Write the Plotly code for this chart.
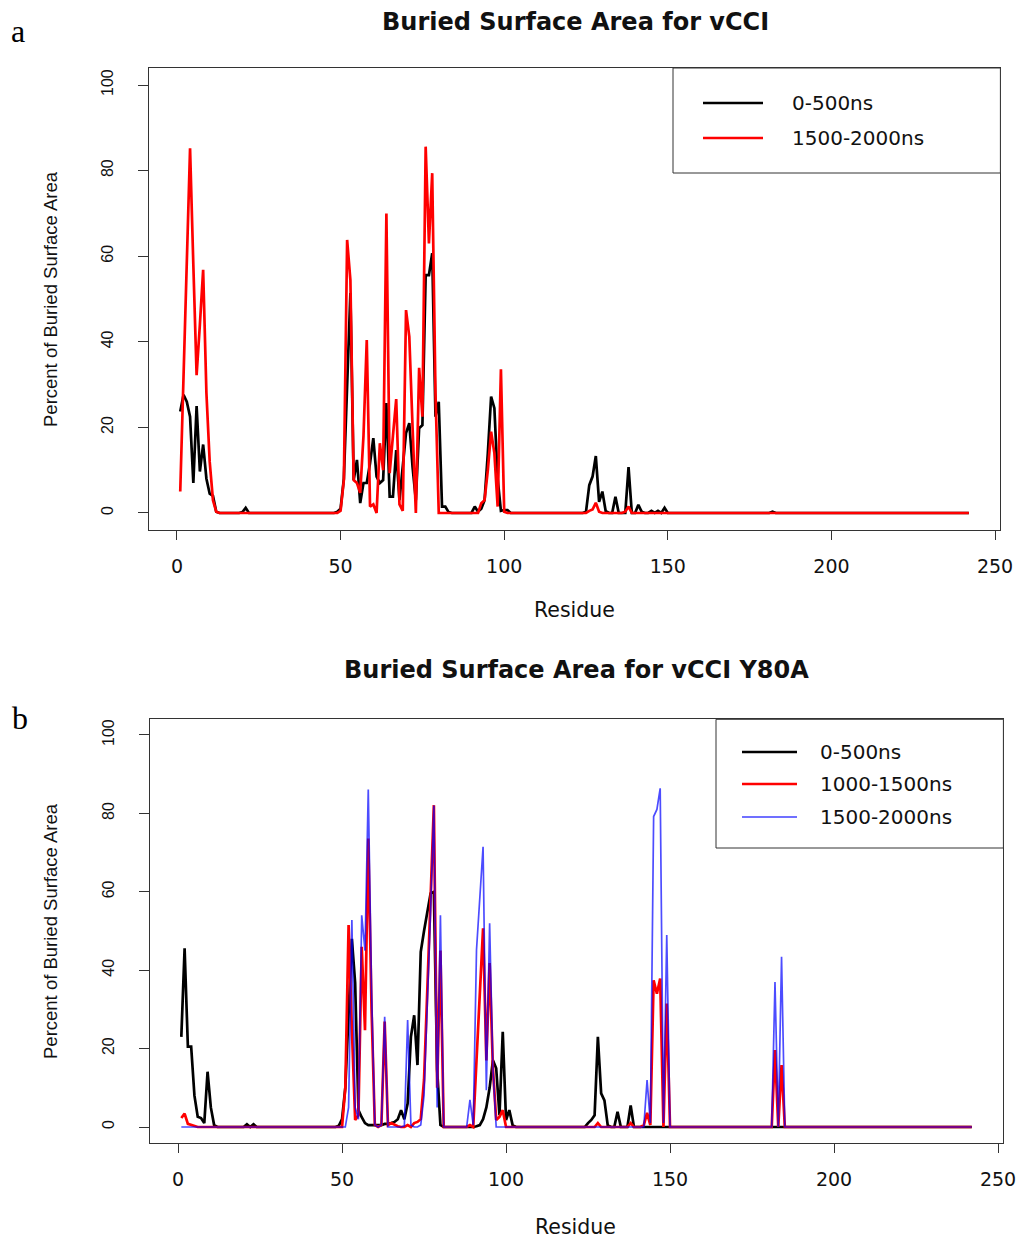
import plotly.graph_objects as go

W, H = 1021, 1238

# ---------------- data ----------------
residues = list(range(1, 243))
x_ticks = [0, 50, 100, 150, 200, 250]
y_ticks = [0, 20, 40, 60, 80, 100]

# panel a: vCCI  (residue -> percent buried; residues not listed are 0)
vcci_0_500 = {
    1: 23.7, 2: 27.6, 3: 26, 4: 22.5, 5: 7, 6: 25, 7: 9.7, 8: 16, 9: 8, 10: 4.5, 11: 4, 12: 0.3,
    20: 0.2, 21: 1.2,
    49: 0.3, 50: 1, 51: 8, 52: 30, 53: 51.4, 54: 7.7, 55: 12.4, 56: 2.3, 57: 7, 58: 7, 59: 11.6,
    60: 17.5, 61: 8.5, 62: 7, 63: 7.7, 64: 25.7, 65: 3.8, 66: 3.8, 67: 14.7, 68: 3, 69: 11.6,
    70: 18.7, 71: 21, 72: 10.7, 73: 3, 74: 19.8, 75: 20.5, 76: 55.6, 77: 55.6, 78: 60.7, 79: 22.5,
    80: 26, 81: 1.5, 82: 1.5, 83: 0.2,
    91: 1.5, 92: 0.3, 93: 1, 94: 3, 95: 14, 96: 27.2, 97: 24.5, 98: 8, 99: 0.5, 100: 0.7, 101: 0.7,
    125: 0.3, 126: 6.5, 127: 8.5, 128: 13.3, 129: 2.6, 130: 5, 131: 0.5, 134: 3.8, 138: 10.7,
    141: 1.9, 142: 0.3, 145: 0.5, 147: 0.5, 149: 1.2, 182: 0.3,
}
vcci_1500_2000 = {
    1: 5, 2: 33, 3: 60, 4: 85.2, 5: 58, 6: 32.2, 7: 44, 8: 56.8, 9: 28, 10: 12, 11: 3, 12: 0.3,
    50: 0.5, 51: 7.7, 52: 63.8, 53: 54.4, 54: 7.7, 55: 7, 56: 4.7, 57: 18, 58: 40.4, 59: 1.5,
    60: 2, 61: 0, 62: 16.3, 63: 10, 64: 70, 65: 9.3, 66: 18, 67: 26.6, 68: 2, 69: 0.5,
    70: 47.4, 71: 41.2, 72: 20, 73: 0, 74: 33.9, 75: 22.5, 76: 85.6, 77: 63, 78: 79.4, 79: 28, 80: 0,
    93: 2.3, 94: 3, 95: 10, 96: 19, 97: 14, 98: 1.5, 99: 33.6, 100: 0.3,
    126: 0.5, 127: 0.8, 128: 2.4, 129: 0.3, 137: 0.3, 138: 1.5,
}

# panel b: vCCI Y80A
y80a_0_500 = {
    1: 23, 2: 45.6, 3: 20.5, 4: 20.5, 5: 8, 6: 2.6, 7: 2.3, 8: 1, 9: 14.1, 10: 5, 11: 0.5,
    21: 0.7, 23: 0.7,
    49: 0.3, 50: 2, 51: 10, 52: 30, 53: 48, 54: 36.7, 55: 4.3, 56: 2.5, 57: 1, 58: 0.5, 59: 0.5,
    60: 0.5, 61: 0.5, 62: 0.5, 63: 0.8, 64: 0.8, 65: 1, 66: 1.3, 67: 2, 68: 4.3, 69: 2, 70: 6,
    71: 23, 72: 28.5, 73: 15.8, 74: 44.7, 75: 50, 76: 55, 77: 59.6, 78: 60, 79: 14.6, 80: 0.5,
    91: 0.2, 92: 0.5, 93: 2, 94: 5, 95: 10, 96: 17, 97: 15, 98: 3, 99: 24.3, 100: 1.8, 101: 4.3, 102: 0.5,
    125: 1, 126: 1.8, 127: 3, 128: 23, 129: 8.6, 130: 6.8, 131: 0.5, 134: 3.9, 138: 5.5,
}
y80a_1000_1500 = {
    1: 2.3, 2: 3.4, 3: 0.8, 4: 0.5, 5: 0.2,
    51: 10, 52: 51.5, 53: 25, 54: 1.8, 55: 3, 56: 46, 57: 24.7, 58: 73.6, 59: 30, 60: 0.5,
    62: 0.5, 63: 26.9, 64: 0.5, 65: 1, 66: 0.5, 67: 0.2, 70: 0.5, 72: 1, 73: 1.3, 74: 2,
    75: 12, 76: 35, 77: 60, 78: 82.1, 79: 10, 80: 45,
    89: 0.5, 91: 17, 92: 34, 93: 50.7, 94: 17, 95: 41.8, 96: 15, 97: 1.8, 98: 2.6, 99: 4.3,
    128: 1, 138: 1, 142: 0.5, 143: 3.6, 144: 0.5, 145: 37.4, 146: 34, 147: 37.9, 149: 31.5,
    182: 19.6, 184: 15.8,
}
y80a_1500_2000 = {
    52: 5, 53: 52.8, 54: 5, 55: 2, 56: 54, 57: 45, 58: 86.1, 59: 35, 60: 0.5, 62: 0.5, 63: 28.1,
    69: 0.3, 70: 27.3, 71: 0.5, 74: 0.5, 75: 8, 76: 30, 77: 55, 78: 82, 79: 5, 80: 54,
    89: 6.9, 90: 0.5, 91: 45.2, 92: 58, 93: 71.5, 94: 9.4, 95: 52, 96: 15,
    143: 12, 144: 1, 145: 79.2, 146: 81, 147: 86.4, 148: 1, 149: 49,
    182: 37, 184: 43.4,
}

titles = ["Buried Surface Area for vCCI", "Buried Surface Area for vCCI Y80A"]
legend_a = ["0-500ns", "1500-2000ns"]
legend_b = ["0-500ns", "1000-1500ns", "1500-2000ns"]


def full(d):
    return [d.get(r, 0.0) for r in residues]


def px_x(p):
    return p / W


def px_y(p):
    return 1 - p / H


BLACK, RED, BLUE = "#000000", "#ff0000", "rgba(0,0,255,0.7)"

fig = go.Figure()
fig.add_trace(go.Scatter(x=residues, y=full(vcci_0_500), mode="lines", name=legend_a[0],
                         line=dict(color=BLACK, width=2.7), xaxis="x", yaxis="y"))
fig.add_trace(go.Scatter(x=residues, y=full(vcci_1500_2000), mode="lines", name=legend_a[1],
                         line=dict(color=RED, width=2.7), xaxis="x", yaxis="y"))
fig.add_trace(go.Scatter(x=residues, y=full(y80a_0_500), mode="lines", name=legend_b[0],
                         line=dict(color=BLACK, width=2.7), xaxis="x2", yaxis="y2"))
fig.add_trace(go.Scatter(x=residues, y=full(y80a_1000_1500), mode="lines", name=legend_b[1],
                         line=dict(color=RED, width=2.7), xaxis="x2", yaxis="y2"))
fig.add_trace(go.Scatter(x=residues, y=full(y80a_1500_2000), mode="lines", name=legend_b[2],
                         line=dict(color=BLUE, width=1.7), xaxis="x2", yaxis="y2"))

FRAME = "#333333"
TICKFONT_X = dict(family="DejaVu Sans", size=19, color="#111111")
TICKFONT_Y = dict(family="Liberation Sans", size=16, color="#111111")

xr = [-8.64, 251.64]
yr = [-4, 104]


def xaxis(dom, anchor):
    return dict(domain=dom, range=xr, tickvals=x_ticks, ticks="outside", ticklen=9, tickwidth=1,
                tickcolor=FRAME, showline=True, linecolor=FRAME, linewidth=1, mirror=True,
                showgrid=False, zeroline=False, tickfont=TICKFONT_X, anchor=anchor,
                ticklabelstandoff=10)


def yaxis(dom, anchor):
    return dict(domain=dom, range=yr, tickvals=y_ticks, ticks="outside", ticklen=10, tickwidth=1,
                tickcolor=FRAME, showline=True, linecolor=FRAME, linewidth=1, mirror=True,
                showgrid=False, zeroline=False, tickfont=TICKFONT_Y, tickangle=-90, anchor=anchor,
                ticklabelstandoff=18)


# plot frames in pixels
A = dict(l=148.7, r=1000.4, t=67.9, b=530.1)
B = dict(l=149.7, r=1003.4, t=719.3, b=1142.7)

annotations = []
shapes = []


def text(x, y, s, size, family="DejaVu Sans", bold=False, angle=0, xanchor="center", color="#111111"):
    annotations.append(dict(x=px_x(x), y=px_y(y), xref="paper", yref="paper", text=("<b>%s</b>" % s) if bold else s,
                            showarrow=False, xanchor=xanchor, yanchor="middle", textangle=angle,
                            font=dict(family=family, size=size, color=color)))


# titles, axis labels, panel letters
text(575, 22, titles[0], 24, bold=True)
text(576, 670, titles[1], 24, bold=True)
text(574, 610, "Residue", 20.5)
text(575, 1226.5, "Residue", 20.5)
text(50, 299, "Percent of Buried Surface Area", 18.5, family="Liberation Sans", angle=-90)
text(50, 931, "Percent of Buried Surface Area", 18.5, family="Liberation Sans", angle=-90)
text(18, 31, "a", 32, family="Liberation Serif", color="#000000")
text(20, 718, "b", 32, family="Liberation Serif", color="#000000")


def legend_box(x0, y0, x1, y1, items, line_x0, line_x1, text_x, ys, colors, widths):
    shapes.append(dict(type="rect", xref="paper", yref="paper", x0=px_x(x0), x1=px_x(x1), y0=px_y(y1), y1=px_y(y0),
                       line=dict(color=FRAME, width=1), fillcolor="white", layer="above"))
    for it, yy, c, w in zip(items, ys, colors, widths):
        shapes.append(dict(type="line", xref="paper", yref="paper", x0=px_x(line_x0), x1=px_x(line_x1),
                           y0=px_y(yy), y1=px_y(yy), line=dict(color=c, width=w), layer="above"))
        text(text_x, yy, it, 20, xanchor="left")


legend_box(673, 68, 1000.4, 173, legend_a, 703, 763, 790, [103, 138], [BLACK, RED], [2.6, 2.6])
legend_box(716, 719.3, 1003.4, 848, legend_b, 742, 797, 818, [752, 784, 817], [BLACK, RED, "rgba(0,0,255,0.75)"],
           [2.6, 2.6, 1.6])

fig.update_layout(
    width=W, height=H, autosize=False,
    margin=dict(l=0, r=0, t=0, b=0, pad=0, autoexpand=False),
    paper_bgcolor="white", plot_bgcolor="white",
    showlegend=False,
    xaxis=xaxis([px_x(A["l"]), px_x(A["r"])], "y"),
    yaxis=yaxis([px_y(A["b"]), px_y(A["t"])], "x"),
    xaxis2=xaxis([px_x(B["l"]), px_x(B["r"])], "y2"),
    yaxis2=yaxis([px_y(B["b"]), px_y(B["t"])], "x2"),
    annotations=annotations,
    shapes=shapes,
)

fig.write_html("out.html", config=dict(responsive=False))
